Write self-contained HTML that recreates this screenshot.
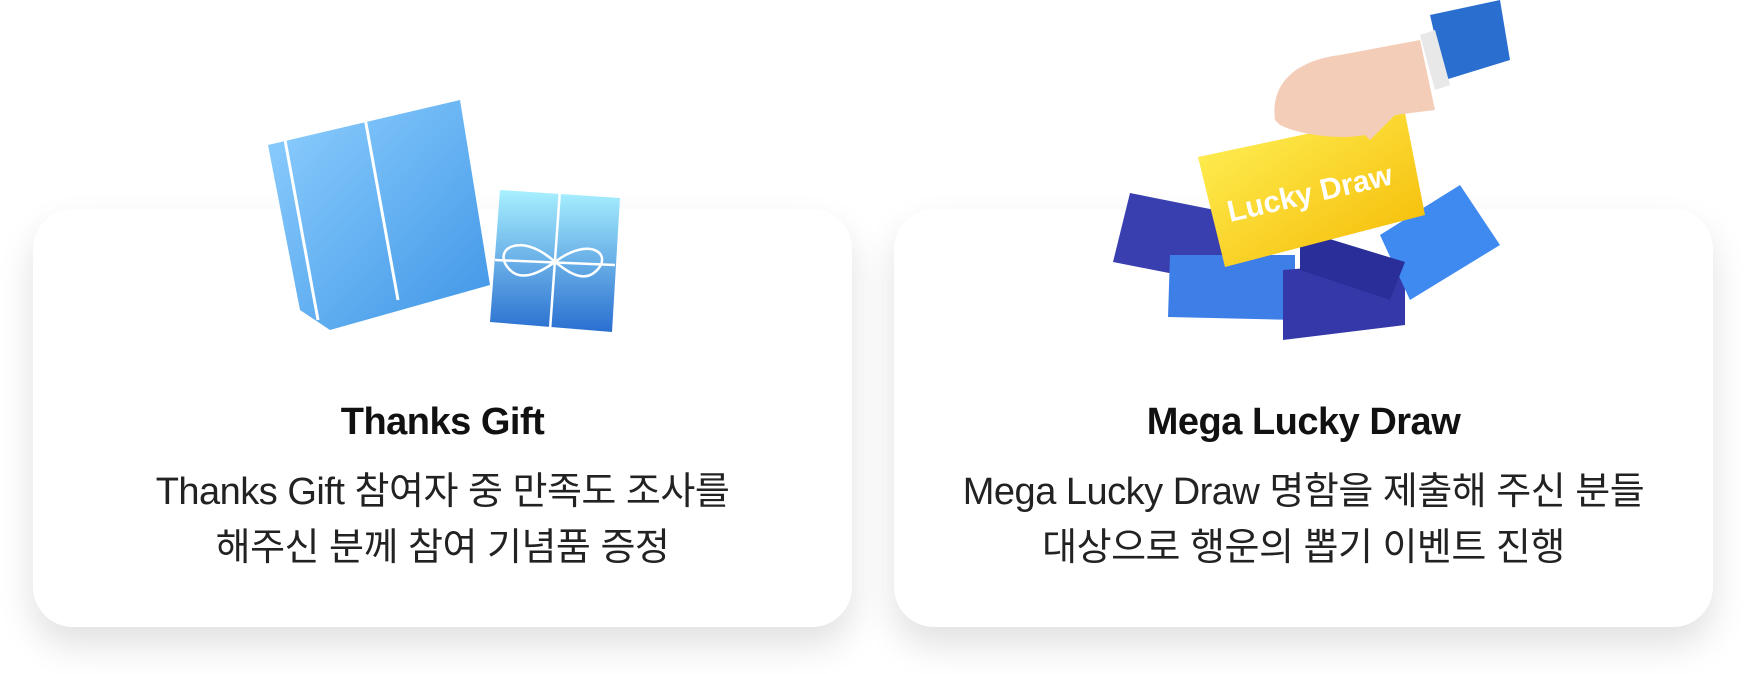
<!DOCTYPE html>
<html><head><meta charset="utf-8"><style>
body{margin:0;width:1746px;height:674px;background:#fff;position:relative;overflow:hidden;font-family:"Liberation Sans","Noto Sans CJK KR",sans-serif}
.card{position:absolute;top:209px;width:819px;height:418px;background:#fff;border-radius:40px;box-shadow:0 18px 36px rgba(0,0,0,0.12)}
.t{position:absolute;left:0;right:0;text-align:center;color:#111}
.h{top:192px;font-size:38px;font-weight:700;letter-spacing:-0.5px}
.b{top:255px;font-size:38px;line-height:56px;color:#222;letter-spacing:-0.5px}
svg{position:absolute}
</style></head><body>
<div class="card" style="left:33px"><div class="t h">Thanks Gift</div><div class="t b">Thanks Gift 참여자 중 만족도 조사를<br>해주신 분께 참여 기념품 증정</div></div>
<div class="card" style="left:894px"><div class="t h">Mega Lucky Draw</div><div class="t b">Mega Lucky Draw 명함을 제출해 주신 분들<br>대상으로 행운의 뽑기 이벤트 진행</div></div>
<svg width="1746" height="360" style="left:0;top:0">
<defs>
<linearGradient id="g1" x1="0" y1="0" x2="1" y2="1"><stop offset="0" stop-color="#8fd0ff"/><stop offset="1" stop-color="#3f95e6"/></linearGradient>
<linearGradient id="g2" x1="0" y1="0" x2="0" y2="1"><stop offset="0" stop-color="#a8f0ff"/><stop offset="1" stop-color="#2a6fd0"/></linearGradient>
<linearGradient id="gy" x1="0" y1="0" x2="1" y2="1"><stop offset="0" stop-color="#fff35a"/><stop offset="1" stop-color="#f5b800"/></linearGradient>
</defs>
<polygon points="268,145 460,100 490,285 330,330 300,310" fill="url(#g1)"/>
<path d="M285,140 L318,320 M365,118 L398,300" stroke="#fff" stroke-width="3" fill="none"/>
<path d="M365,118 C320,40 280,50 310,95 C330,120 360,118 365,118 C360,60 390,30 395,80 C395,110 370,118 365,118" stroke="#fff" stroke-width="3" fill="none"/>
<polygon points="500,190 620,198 612,332 490,322" fill="url(#g2)"/>
<path d="M560,190 L550,330 M495,260 L615,265" stroke="#fff" stroke-width="2.5" fill="none"/>
<path d="M555,262 C520,230 490,250 510,270 C525,285 550,265 555,262 C590,235 615,255 595,272 C580,285 560,265 555,262" stroke="#fff" stroke-width="2.5" fill="none"/>
<polygon points="1130,193 1240,215 1230,285 1113,262" fill="#3a3fb0"/>
<polygon points="1170,255 1295,255 1295,320 1168,317" fill="#3d7fe6"/>
<polygon points="1283,340 1405,325 1405,260 1283,270" fill="#3538a8"/>
<polygon points="1460,185 1500,245 1410,300 1380,235" fill="#3f8af0"/>
<polygon points="1300,230 1405,262 1390,300 1300,270" fill="#2a2e98"/>
<polygon points="1198,157 1405,113 1425,215 1225,267" fill="url(#gy)"/>
<text x="1312" y="203" transform="rotate(-13 1312 203)" text-anchor="middle" font-family="Liberation Sans" font-weight="700" font-size="30" fill="#fff">Lucky Draw</text>
<path d="M1275,120 C1270,80 1300,60 1340,55 L1420,40 L1435,110 L1395,115 L1370,140 L1365,135 C1340,140 1300,135 1280,125 Z" fill="#f4cdb8"/>
<polygon points="1430,15 1500,0 1510,60 1445,80" fill="#2a6fd0"/>
<polygon points="1420,35 1435,30 1450,85 1435,90" fill="#e8e8e8"/>
</svg>
</body></html>
